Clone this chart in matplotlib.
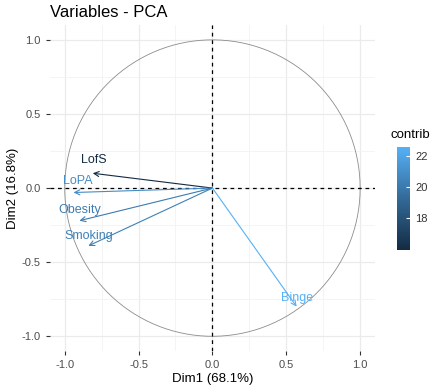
import numpy as np
import matplotlib
matplotlib.use('Agg')
import matplotlib.pyplot as plt
import matplotlib as mpl
from matplotlib.colors import LinearSegmentedColormap, Normalize

plt.rcParams['font.family'] = ['Liberation Sans', 'DejaVu Sans']

# data
variables = ['LofS', 'LoPA', 'Obesity', 'Smoking', 'Binge']
dim1 = [-0.81, -0.94, -0.90, -0.84, 0.57]
dim2 = [0.10, -0.03, -0.22, -0.39, -0.80]
contrib = [15.9, 20.9, 20.1, 20.3, 22.6]
label_x = [-0.80, -0.91, -0.90, -0.84, 0.57]
label_y = [0.19, 0.05, -0.15, -0.32, -0.74]

cmap = LinearSegmentedColormap.from_list('gg', ['#132B43', '#336A98', '#56B1F7'])
norm = Normalize(vmin=min(contrib), vmax=max(contrib))

fig = plt.figure(figsize=(4.38, 3.91), dpi=100)
ax = fig.add_axes([0.114, 0.102, 0.742, 0.834])

ax.set_xlim(-1.1, 1.1)
ax.set_ylim(-1.1, 1.1)
ax.set_xticks([-1.0, -0.5, 0.0, 0.5, 1.0])
ax.set_yticks([-1.0, -0.5, 0.0, 0.5, 1.0])
ax.set_xticks([-0.75, -0.25, 0.25, 0.75], minor=True)
ax.set_yticks([-0.75, -0.25, 0.25, 0.75], minor=True)
ax.grid(True, which='major', color='#EBEBEB', lw=0.9)
ax.grid(True, which='minor', color='#F3F3F3', lw=0.6)
ax.set_axisbelow(True)
for s in ax.spines.values():
    s.set_visible(False)
ax.tick_params(which='major', length=3, color='#333333', labelcolor='#4D4D4D', labelsize=8, width=0.8)
ax.tick_params(which='minor', length=0)
ax.set_xticklabels(['-1.0', '-0.5', '0.0', '0.5', '1.0'])
ax.set_yticklabels(['-1.0', '-0.5', '0.0', '0.5', '1.0'])

t = np.linspace(0, 2 * np.pi, 400)
ax.plot(np.cos(t), np.sin(t), color='#8C8C8C', lw=0.6)
ax.axhline(0, color='black', ls=(0, (3, 3)), lw=0.9)
ax.axvline(0, color='black', ls=(0, (3, 3)), lw=0.9)

for name, x, y, c, lx, ly in zip(variables, dim1, dim2, contrib, label_x, label_y):
    col = cmap(norm(c))
    ax.annotate('', xy=(x, y), xytext=(0, 0),
                arrowprops=dict(arrowstyle='->', color=col, lw=0.8,
                                shrinkA=0, shrinkB=0, mutation_scale=9))
    ax.text(lx, ly, name, color=col, fontsize=9, ha='center', va='center')

ax.set_xlabel('Dim1 (68.1%)', fontsize=9.5, labelpad=2)
ax.set_ylabel('Dim2 (16.8%)', fontsize=9.5, labelpad=2)
ax.set_title('Variables - PCA', fontsize=12, loc='left', pad=6, x=0.0)

cax = fig.add_axes([0.906, 0.36, 0.03, 0.265])
cb = mpl.colorbar.ColorbarBase(cax, cmap=cmap, norm=norm, ticks=[18, 20, 22])
cb.outline.set_visible(False)
cax.tick_params(length=3, color='white', labelsize=8, labelcolor='#333333', direction='in', width=0.8, pad=4)
cax.set_title('contrib', fontsize=9.5, loc='left', pad=6, x=-0.5)

fig.savefig('out.png', dpi=100)
